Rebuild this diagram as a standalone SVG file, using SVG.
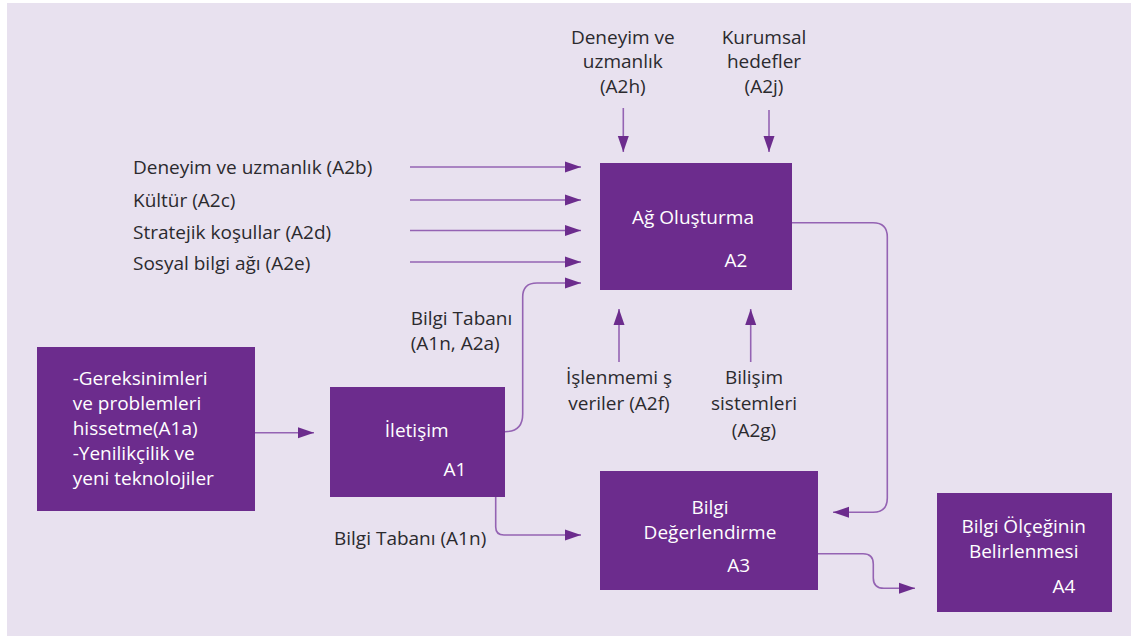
<svg xmlns="http://www.w3.org/2000/svg" width="1131" height="636" viewBox="0 0 1131 636">
<style>
.box{fill:#6c2c8d}
.t{font-family:"Open Sans","Liberation Sans",Arial,sans-serif;font-size:19px;fill:#2b2a2e}
.w{font-family:"Open Sans","Liberation Sans",Arial,sans-serif;font-size:19px;fill:#ffffff}
.m{text-anchor:middle}
.c{fill:none;stroke:#9463b3;stroke-width:1.6}
</style>
<defs>
<marker id="ah" markerUnits="userSpaceOnUse" markerWidth="16" markerHeight="12" refX="16" refY="6" orient="auto">
<path d="M0,0.5 L16,6 L0,11.5 z" fill="#6c2c8d"/>
</marker>
</defs>
<rect x="7" y="3" width="1124" height="633" fill="#e8e1ef"/>
<g id="connectors">
<path class="c" d="M410,167 H581" marker-end="url(#ah)"/>
<path class="c" d="M410,200 H581" marker-end="url(#ah)"/>
<path class="c" d="M410,230.5 H581" marker-end="url(#ah)"/>
<path class="c" d="M410,262 H581" marker-end="url(#ah)"/>
<path class="c" d="M505,431.7 Q522.7,431.7 522.7,414 V297 Q522.7,283 537,283 H581" marker-end="url(#ah)"/>
<path class="c" d="M623.3,108 V152" marker-end="url(#ah)"/>
<path class="c" d="M769,110 V152" marker-end="url(#ah)"/>
<path class="c" d="M619,362 V309" marker-end="url(#ah)"/>
<path class="c" d="M750.7,362 V309" marker-end="url(#ah)"/>
<path class="c" d="M255,432.7 H314" marker-end="url(#ah)"/>
<path class="c" d="M792,222.7 H873 Q887.3,222.7 887.3,237 V498 Q887.3,512.3 873,512.3 H833" marker-end="url(#ah)"/>
<path class="c" d="M495.7,496.7 V527 Q495.7,535 504,535 H581" marker-end="url(#ah)"/>
<path class="c" d="M818,553.7 H863 Q873.3,553.7 873.3,564 V578 Q873.3,588.3 884,588.3 H915" marker-end="url(#ah)"/>
</g>
<g id="inputs">
<text class="t" x="133" y="174.3">Deneyim ve uzmanlık (A2b)</text>
<text class="t" x="133" y="206.7">Kültür (A2c)</text>
<text class="t" x="133" y="239">Stratejik koşullar (A2d)</text>
<text class="t" x="133" y="270">Sosyal bilgi ağı (A2e)</text>
</g>
<g id="label-a2h">
<text class="t m" x="622.8" y="44.3">Deneyim ve</text>
<text class="t m" x="622.8" y="68.3">uzmanlık</text>
<text class="t m" x="622.8" y="93">(A2h)</text>
</g>
<g id="label-a2j">
<text class="t m" x="764" y="44.3">Kurumsal</text>
<text class="t m" x="764" y="68.3">hedefler</text>
<text class="t m" x="764" y="93">(A2j)</text>
</g>
<g id="label-a2f">
<text class="t m" x="619" y="384">İşlenmemi ş</text>
<text class="t m" x="619" y="410">veriler (A2f)</text>
</g>
<g id="label-a2g">
<text class="t m" x="754" y="384">Bilişim</text>
<text class="t m" x="754" y="410">sistemleri</text>
<text class="t m" x="754" y="436.5">(A2g)</text>
</g>
<g id="label-bilgi-tabani-1">
<text class="t" x="410.7" y="325">Bilgi Tabanı</text>
<text class="t" x="410.7" y="350">(A1n, A2a)</text>
</g>
<g id="label-bilgi-tabani-2">
<text class="t" x="334" y="545">Bilgi Tabanı (A1n)</text>
</g>
<g id="node-input">
<rect class="box" x="37" y="347" width="218" height="164"/>
<text class="w" x="72.7" y="385">-Gereksinimleri</text>
<text class="w" x="72.7" y="410">ve problemleri</text>
<text class="w" x="72.7" y="435">hissetme(A1a)</text>
<text class="w" x="72.7" y="460">-Yenilikçilik ve</text>
<text class="w" x="72.7" y="485">yeni teknolojiler</text>
</g>
<g id="node-a1">
<rect class="box" x="330" y="387" width="175" height="110"/>
<text class="w m" x="416.7" y="436.7">İletişim</text>
<text class="w m" x="455" y="476">A1</text>
</g>
<g id="node-a2">
<rect class="box" x="600" y="163" width="192" height="127"/>
<text class="w m" x="693" y="224">Ağ Oluşturma</text>
<text class="w m" x="736" y="266.7">A2</text>
</g>
<g id="node-a3">
<rect class="box" x="600" y="471" width="218" height="119"/>
<text class="w m" x="710" y="514">Bilgi</text>
<text class="w m" x="710" y="539">Değerlendirme</text>
<text class="w m" x="738.7" y="571.7">A3</text>
</g>
<g id="node-a4">
<rect class="box" x="937" y="493" width="175" height="119"/>
<text class="w m" x="1023.7" y="532.7">Bilgi Ölçeğinin</text>
<text class="w m" x="1023.7" y="558.3">Belirlenmesi</text>
<text class="w m" x="1064" y="593.3">A4</text>
</g>
</svg>
